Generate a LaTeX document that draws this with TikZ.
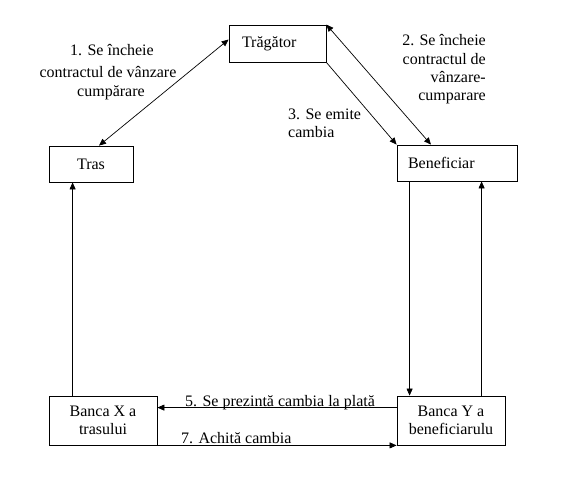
\documentclass[tikz,border=0pt]{standalone}
\usepackage{fontspec}
\setmainfont{Liberation Serif}
\usetikzlibrary{arrows.meta}
\begin{document}
\begin{tikzpicture}[x=1pt,y=-1pt,
  box/.style={draw, line width=0.8pt, inner sep=0pt, font=\fontsize{16}{18.4}\selectfont},
  conn/.style={line width=0.7pt, -{Triangle[length=7pt,width=6pt]}},
  dconn/.style={line width=0.7pt, {Triangle[length=7pt,width=6pt]}-{Triangle[length=7pt,width=6pt]}},
  lbl/.style={font=\fontsize{16}{18.4}\selectfont, inner sep=0pt}]
\useasboundingbox (0,0) rectangle (579,495);
% boxes
\node[box, text width=71pt, inner xsep=13pt, minimum height=37pt, align=left] (trag) at (277.5,43.5) {Trăgător};
\node[box, minimum width=84pt, minimum height=36pt] (tras) at (91,164) {Tras};
\node[box, text width=98pt, inner xsep=11pt, minimum height=36pt, align=left] (ben) at (457,163) {Beneficiar};
\node[box, minimum width=108pt, minimum height=49pt, align=center] (bankx) at (103,420.5) {Banca X a\\trasului};
\node[box, minimum width=108pt, minimum height=49pt, align=center] (banky) at (451,420.5) {Banca Y a\\beneficiarulu};
% connectors
\draw[dconn] ([xshift=8pt]tras.north) -- ([yshift=4pt]trag.west);
\draw[dconn] (trag.north east) -- ([xshift=-26pt]ben.north);
\draw[conn] (trag.south east) -- (ben.north west);
\draw[conn] ([xshift=13pt]ben.south west) -- ([xshift=13pt]banky.north west);
\draw[conn] ([xshift=85pt]banky.north west) -- ([xshift=85pt]ben.south west);
\draw[conn] ([xshift=24pt]bankx.north west) -- ([xshift=24pt]tras.south west);
\draw[conn] ([yshift=-12pt]banky.north west) -- ([yshift=-12pt]bankx.north east);
\draw[conn] (bankx.south east) -- (banky.south west);
% labels
\node[lbl] (l1a) at (112,50) {1. Se încheie};
\node[lbl] (l1b) at (108,72) {contractul de vânzare};
\node[lbl] (l1c) at (111,93) {cumpărare};
\node[lbl, align=right, anchor=east] (l2) at (486,69.5) {2. Se încheie\\contractul de\\vânzare-\\cumparare};
\node[lbl, align=left, anchor=west] (l3) at (288,123) {3. Se emite\\cambia};
\node[lbl, anchor=base west] (l5) at (185,406) {5. Se prezintă cambia la plată};
\node[lbl, anchor=base west] (l7) at (181,443) {7. Achită cambia};
\end{tikzpicture}
\end{document}
